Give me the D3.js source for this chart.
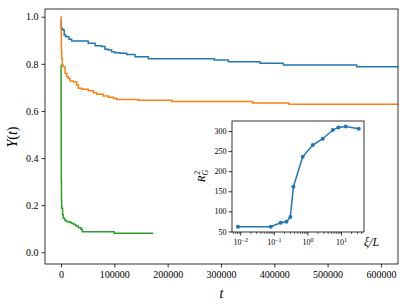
<!DOCTYPE html>
<html>
<head>
<meta charset="utf-8">
<script src="https://cdn.jsdelivr.net/npm/d3@7"></script>
<style>
  body { margin: 0; background: #fff; }
</style>
</head>
<body>
<svg id="chart" width="407" height="305"></svg>
<script>
// main plot: survival curves Y(t), drawn as steps
const blueT  = [0, 500, 3000, 6000, 9000, 15000, 20000, 51000, 64000, 76000, 82500, 88700, 95000, 101000, 110700, 123300, 138800, 163800, 287600, 313900, 373300, 417000, 554700, 632000];
const blueY  = [0.986, 0.951, 0.944, 0.922, 0.915, 0.904, 0.897, 0.887, 0.877, 0.873, 0.862, 0.859, 0.851, 0.847, 0.845, 0.840, 0.830, 0.822, 0.816, 0.809, 0.802, 0.795, 0.788, 0.788];

const orangeT = [0, 300, 700, 1200, 2400, 4000, 7500, 10500, 13700, 16900, 23100, 29500, 32500, 38800, 51200, 60600, 67000, 79400, 88700, 98100, 104500, 145000, 207700, 359600, 427700, 632000];
const orangeY = [1.0, 0.93, 0.86, 0.823, 0.795, 0.788, 0.76, 0.745, 0.739, 0.727, 0.724, 0.71, 0.696, 0.692, 0.686, 0.677, 0.671, 0.663, 0.658, 0.654, 0.649, 0.645, 0.640, 0.634, 0.628, 0.628];

const greenT = [0, 200, 400, 600, 900, 1300, 3000, 4300, 7000, 10700, 16900, 20100, 24000, 27600, 32500, 37500, 40000, 100000, 173000];
const greenY = [0.795, 0.6, 0.4, 0.3, 0.22, 0.187, 0.16, 0.144, 0.135, 0.130, 0.126, 0.122, 0.118, 0.112, 0.104, 0.098, 0.087, 0.081, 0.081];

const xTicks = [0, 100000, 200000, 300000, 400000, 500000, 600000];
const yTicks = [0.0, 0.2, 0.4, 0.6, 0.8, 1.0];

// inset: R_G^2 vs xi/L
const xiL  = [0.0083, 0.078, 0.155, 0.23, 0.30, 0.37, 0.70, 1.40, 2.77, 5.5, 8.1, 13.4, 32.7];
const rg2  = [61.5, 61.5, 71.5, 74, 85.8, 161.5, 235.8, 265, 280.8, 302.5, 309, 311, 305.8];
const insetYTicks = [50, 100, 150, 200, 250, 300];
const insetXExps  = [-2, -1, 0, 1];

const blue = "#1f77b4", orange = "#ff7f0e", green = "#2ca02c";
const SERIF = "'Liberation Serif', 'DejaVu Serif', serif";

const svg = d3.select("#chart");

// ---------- main axes ----------
const M = {left: 45, right: 398, top: 9, bottom: 264};
const x = d3.scaleLinear().domain([-30000, 632000]).range([M.left, M.right]);
const y = d3.scaleLinear().domain([-0.0497, 1.0327]).range([M.bottom, M.top]);

const line = d3.line()
  .x(d => x(d[0])).y(d => y(d[1]))
  .curve(d3.curveStepAfter);

const series = [
  [blueT, blueY, blue],
  [orangeT, orangeY, orange],
  [greenT, greenY, green]
];
series.forEach(([ts, ys, c]) => {
  svg.append("path")
    .datum(ts.map((t, i) => [t, ys[i]]))
    .attr("d", line)
    .attr("fill", "none")
    .attr("stroke", c)
    .attr("stroke-width", 1.5);
});

const gx = svg.append("g").attr("transform", `translate(0,${M.bottom})`)
  .call(d3.axisBottom(x).tickValues(xTicks).tickSize(3.5).tickPadding(3).tickFormat(d3.format("d")));
const gy = svg.append("g").attr("transform", `translate(${M.left},0)`)
  .call(d3.axisLeft(y).tickValues(yTicks).tickSize(3.5).tickPadding(3).tickFormat(d3.format(".1f")));
[gx, gy].forEach(g => {
  g.select(".domain").remove();
  g.selectAll(".tick line").attr("stroke-width", 0.8);
  g.selectAll(".tick text").style("font-family", SERIF).style("font-size", "10px");
});

svg.append("rect")
  .attr("x", M.left).attr("y", M.top)
  .attr("width", M.right - M.left).attr("height", M.bottom - M.top)
  .attr("fill", "none").attr("stroke", "#000").attr("stroke-width", 0.8);

// axis labels
svg.append("text")
  .attr("x", (M.left + M.right) / 2).attr("y", 298)
  .attr("text-anchor", "middle")
  .style("font-family", SERIF)
  .style("font-size", "14px").style("font-style", "italic")
  .text("t");

const yl = svg.append("text")
  .attr("transform", "translate(17,137) rotate(-90)")
  .attr("text-anchor", "middle")
  .style("font-family", SERIF)
  .style("font-size", "14px");
yl.append("tspan").style("font-style", "italic").text("Y");
yl.append("tspan").text("(");
yl.append("tspan").style("font-style", "italic").text("t");
yl.append("tspan").text(")");

// ---------- inset ----------
const I = {left: 232, right: 364, top: 121, bottom: 232};
const xi = d3.scaleLog().domain([Math.pow(10, -2.26), Math.pow(10, 1.67)]).range([I.left, I.right]);
const yi = d3.scaleLinear().domain([48.6, 325]).range([I.bottom, I.top]);

svg.append("rect")
  .attr("x", I.left).attr("y", I.top)
  .attr("width", I.right - I.left).attr("height", I.bottom - I.top)
  .attr("fill", "#fff").attr("stroke", "#000").attr("stroke-width", 0.8);

const pts = xiL.map((v, i) => [v, rg2[i]]);
svg.append("path")
  .datum(pts)
  .attr("d", d3.line().x(d => xi(d[0])).y(d => yi(d[1])))
  .attr("fill", "none").attr("stroke", blue).attr("stroke-width", 1.5);
svg.append("g").selectAll("circle").data(pts).join("circle")
  .attr("cx", d => xi(d[0])).attr("cy", d => yi(d[1]))
  .attr("r", 2).attr("fill", blue);

const giy = svg.append("g").attr("transform", `translate(${I.left},0)`)
  .call(d3.axisLeft(yi).tickValues(insetYTicks).tickSize(3.5).tickPadding(2));
giy.select(".domain").remove();
giy.selectAll(".tick line").attr("stroke-width", 0.8);
giy.selectAll(".tick text").style("font-family", SERIF).style("font-size", "8px");

// log minor ticks
const [d0, d1] = xi.domain();
const minor = [];
for (let e = -3; e <= 2; e++) {
  for (let m = 2; m <= 9; m++) {
    const v = m * Math.pow(10, e);
    if (v >= d0 && v <= d1) minor.push(v);
  }
}
const gix = svg.append("g").attr("transform", `translate(0,${I.bottom})`);
gix.selectAll("line.minor").data(minor).join("line")
  .attr("x1", d => xi(d)).attr("x2", d => xi(d))
  .attr("y1", 0).attr("y2", 2)
  .attr("stroke", "#000").attr("stroke-width", 0.6);
const major = gix.selectAll("g.major").data(insetXExps).join("g")
  .attr("transform", d => `translate(${xi(Math.pow(10, d))},0)`);
major.append("line").attr("y2", 3.5).attr("stroke", "#000").attr("stroke-width", 0.8);
const lab = major.append("text")
  .attr("y", 13).attr("text-anchor", "middle")
  .style("font-family", SERIF)
  .style("font-size", "8px");
lab.append("tspan").text("10");
lab.append("tspan").attr("dy", -3.5).style("font-size", "6px")
  .text(d => d < 0 ? "\u2212" + (-d) : d);

// inset labels
const rl = svg.append("text")
  .attr("transform", "translate(205,176) rotate(-90)")
  .attr("text-anchor", "middle")
  .style("font-family", SERIF)
  .style("font-size", "11px");
rl.append("tspan").style("font-style", "italic").text("R");
rl.append("tspan").attr("dy", 3).style("font-size", "8px").style("font-style", "italic").text("G");
rl.append("tspan").attr("dx", -5).attr("dy", -8).style("font-size", "8px").text("2");

svg.append("text")
  .attr("x", 364).attr("y", 246)
  .style("font-family", SERIF)
  .style("font-size", "12px").style("font-style", "italic")
  .text("\u03be/L");
</script>
</body>
</html>
